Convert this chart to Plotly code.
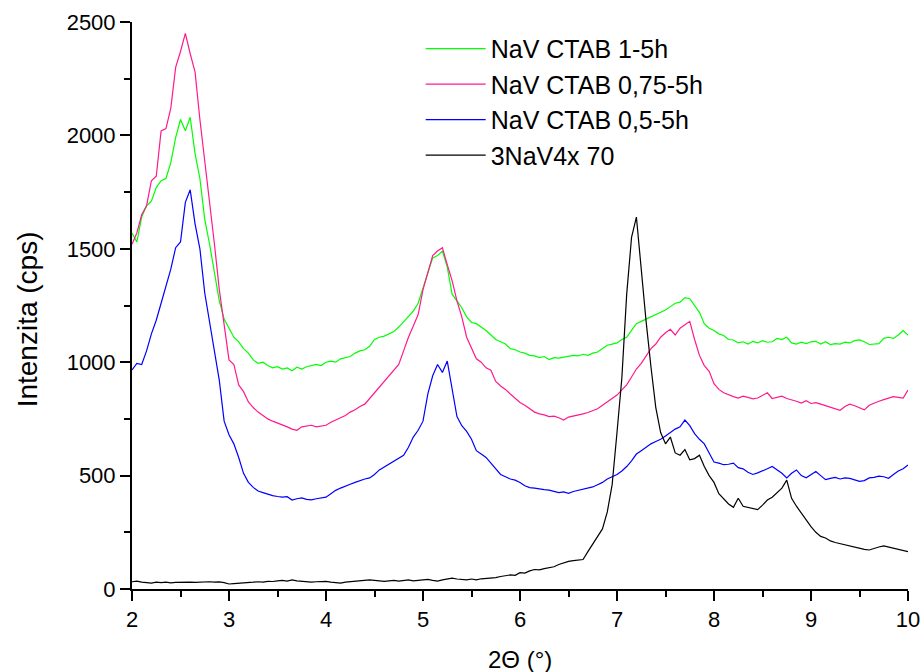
import numpy as np
import plotly.graph_objects as go

# shared 2-theta sampling grid (step 0.05)
two_theta = np.round(np.arange(2.0, 10.0001, 0.05), 2)

nav_ctab_1_5h = [
    1570, 1530, 1640, 1690, 1710, 1770, 1800, 1810, 1880, 1990,
    2070, 2020, 2080, 1920, 1810, 1630, 1520, 1390, 1270, 1190,
    1150, 1110, 1090, 1060, 1040, 1010, 995, 1000, 985, 975,
    980, 970, 975, 962, 978, 970, 980, 985, 990, 985,
    1000, 1005, 1000, 1015, 1020, 1025, 1040, 1050, 1055, 1070,
    1100, 1110, 1115, 1125, 1135, 1155, 1180, 1205, 1225, 1260,
    1330, 1400, 1460, 1470, 1490, 1420, 1300, 1270, 1240, 1200,
    1175, 1170, 1155, 1140, 1120, 1100, 1090, 1080, 1060, 1055,
    1045, 1040, 1030, 1028, 1020, 1025, 1012, 1020, 1018, 1022,
    1025, 1030, 1028, 1035, 1030, 1040, 1045, 1060, 1075, 1080,
    1085, 1100, 1110, 1140, 1170, 1180, 1190, 1200, 1210, 1220,
    1230, 1245, 1260, 1265, 1285, 1280, 1250, 1220, 1170, 1150,
    1140, 1125, 1118, 1100, 1098, 1085, 1090, 1080, 1092, 1085,
    1095, 1088, 1090, 1105, 1100, 1110, 1085, 1080, 1088, 1082,
    1090, 1092, 1080, 1090, 1078, 1082, 1080, 1088, 1085, 1095,
    1098, 1090, 1078, 1080, 1082, 1105, 1110, 1105, 1120, 1140,
    1120,
]

nav_ctab_075_5h = [
    1520, 1570, 1650, 1690, 1800, 1820, 2020, 2030, 2120, 2300,
    2370, 2450, 2360, 2280, 2070, 1890, 1720, 1520, 1320, 1160,
    1010, 990, 900, 870, 825, 800, 780, 765, 750, 740,
    732, 725, 715, 705, 700, 715, 718, 722, 715, 720,
    722, 735, 745, 755, 765, 780, 790, 805, 815, 840,
    865, 890, 915, 940, 960, 990, 1050, 1110, 1160, 1210,
    1320, 1400, 1470, 1490, 1505, 1430, 1360, 1270, 1200, 1110,
    1060, 1015, 1000, 975, 965, 915, 895, 880, 860, 840,
    822, 810, 795, 780, 772, 768, 760, 762, 755, 745,
    758, 762, 768, 772, 778, 788, 795, 810, 825, 838,
    855, 878, 900, 935, 970, 995, 1030, 1060, 1080, 1110,
    1130, 1145, 1120, 1150, 1165, 1180, 1100, 1030, 985, 960,
    905, 880, 865, 855, 848, 842, 850, 845, 838, 842,
    855, 865, 840, 845, 850, 840, 835, 828, 820, 830,
    818, 822, 815, 808, 800, 792, 788, 805, 815, 808,
    800, 790, 810, 820, 828, 835, 840, 848, 845, 842,
    877,
]

nav_ctab_05_5h = [
    966, 995, 990, 1050, 1125, 1185, 1260, 1340, 1410, 1505,
    1530, 1705, 1760, 1610, 1500, 1305, 1180, 1050, 920, 740,
    680, 640, 580, 510, 470, 448, 432, 425, 418, 412,
    408, 405, 407, 392, 398, 402, 395, 393, 398, 400,
    405, 420, 435, 445, 455, 462, 470, 478, 485, 490,
    505, 525, 538, 552, 565, 575, 590, 625, 670, 700,
    740, 860, 940, 990, 955, 1005, 880, 760, 720, 695,
    660, 610, 595, 580, 555, 530, 505, 495, 485, 480,
    470, 455, 447, 445, 440, 438, 436, 430, 425, 428,
    422, 430, 435, 440, 442, 450, 460, 470, 485, 495,
    505, 520, 540, 565, 595, 610, 625, 640, 650, 660,
    675, 690, 705, 715, 745, 720, 685, 660, 640, 600,
    560, 555, 548, 550, 555, 535, 530, 515, 505, 512,
    520, 530, 540, 525, 510, 490, 510, 525, 500, 490,
    505, 518, 500, 482, 488, 492, 485, 490, 488, 482,
    475, 478, 490, 492, 498, 495, 488, 505, 520, 530,
    547,
]

nav4x_70 = [
    32, 35, 30, 28, 26, 30, 28, 30, 27, 29,
    30, 28, 30, 29, 31, 30, 32, 30, 31, 28,
    22, 24, 25, 27, 26, 30, 32, 30, 34, 33,
    36, 38, 35, 40, 36, 33, 32, 30, 32, 33,
    34, 30, 28, 26, 30, 32, 33, 34, 36, 40,
    38, 36, 34, 36, 38, 35, 38, 40, 36, 38,
    40, 42, 38, 35, 40, 45, 48, 44, 42, 40,
    44, 40, 45, 46, 48, 50, 55, 58, 62, 60,
    72, 70, 80, 86, 84, 90, 95, 98, 108, 115,
    122, 125, 126, 130, 165, 200, 235, 265, 340, 460,
    690, 930, 1300, 1550, 1640, 1400, 1180, 980, 800, 690,
    640, 670, 600, 590, 615, 570, 575, 590, 540, 500,
    470, 420, 395, 375, 360, 400, 365, 360, 352, 350,
    370, 392, 405, 425, 445, 480, 400, 365, 335, 300,
    275, 250, 232, 225, 212, 205, 200, 192, 188, 182,
    178, 175, 172, 180, 185, 190, 185, 180, 175, 170,
    165,
]

series_names = ["NaV CTAB 1-5h", "NaV CTAB 0,75-5h", "NaV CTAB 0,5-5h", "3NaV4x 70"]
series_values = [nav_ctab_1_5h, nav_ctab_075_5h, nav_ctab_05_5h, nav4x_70]
series_colors = ["#00ff00", "#ff1a8c", "#0000ff", "#000000"]

x_ticks = [2, 3, 4, 5, 6, 7, 8, 9, 10]
y_ticks = [0, 500, 1000, 1500, 2000, 2500]
x_title = "2Θ (°)"
y_title = "Intenzita (cps)"

FONT = "Arial, Liberation Sans, sans-serif"

fig = go.Figure()
for name, vals, col in zip(series_names, series_values, series_colors):
    fig.add_trace(go.Scatter(x=two_theta, y=vals, mode="lines", name=name,
                             line=dict(color=col, width=1.2)))

fig.update_layout(
    width=922, height=672,
    margin=dict(l=132, r=14, t=22, b=83),
    paper_bgcolor="white", plot_bgcolor="white",
    font=dict(family=FONT, color="black"),
    showlegend=True,
    legend=dict(x=0.372, y=0.993, xanchor="left", yanchor="top",
                font=dict(size=25, family=FONT), bgcolor="rgba(0,0,0,0)",
                tracegroupgap=0, itemwidth=60),
    annotations=[
        dict(text=x_title, xref="paper", yref="paper", x=0.5, y=-0.125,
             xanchor="center", yanchor="middle", showarrow=False,
             font=dict(size=24, family=FONT)),
        dict(text=y_title, xref="paper", yref="paper", x=-0.135, y=0.476,
             xanchor="center", yanchor="middle", showarrow=False, textangle=-90,
             font=dict(size=28, family=FONT)),
    ],
)
fig.update_xaxes(
    range=[2, 10], tickvals=x_ticks, ticktext=[str(v) for v in x_ticks],
    showline=True, linecolor="black", linewidth=2, mirror=False,
    ticks="outside", ticklen=10, tickwidth=2, tickcolor="black",
    minor=dict(ticks="outside", ticklen=6, tickwidth=2, tickcolor="black", dtick=0.5),
    showgrid=False, zeroline=False, automargin=False,
    tickfont=dict(size=22, family=FONT),
)
fig.update_yaxes(
    range=[0, 2500], tickvals=y_ticks, ticktext=[str(v) for v in y_ticks],
    showline=True, linecolor="black", linewidth=2, mirror=False,
    ticks="outside", ticklen=10, tickwidth=2, tickcolor="black",
    minor=dict(ticks="outside", ticklen=6, tickwidth=2, tickcolor="black", dtick=250),
    showgrid=False, zeroline=False, automargin=False,
    tickfont=dict(size=22, family=FONT),
)

fig.write_html("out.html")
